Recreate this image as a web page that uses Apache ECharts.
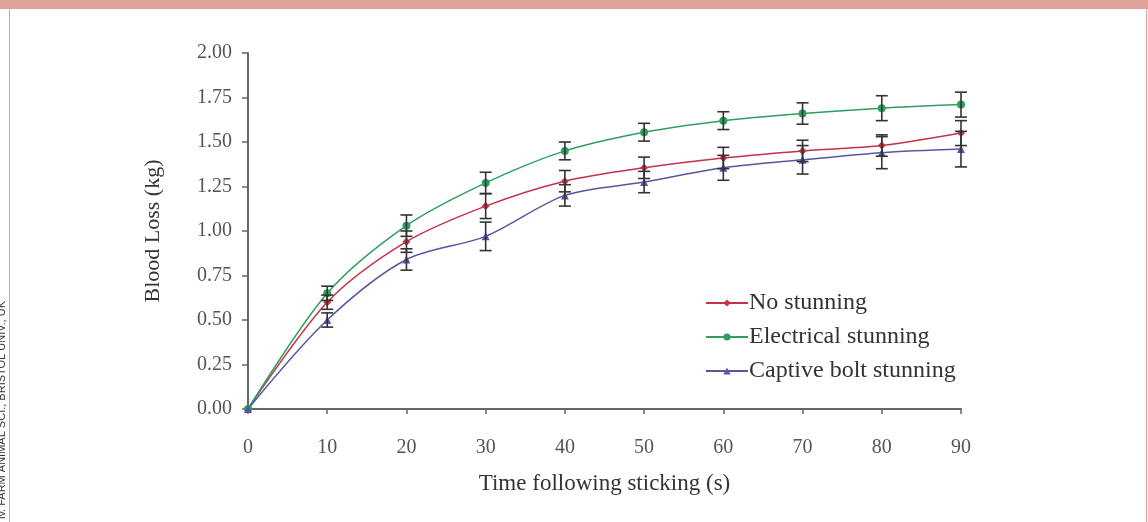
<!DOCTYPE html>
<html>
<head>
<meta charset="utf-8">
<script src="https://cdn.jsdelivr.net/npm/echarts@6/dist/echarts.min.js"></script>
<style>
html,body{margin:0;padding:0;background:#fff;}
#c{width:1148px;height:522px;}
</style>
</head>
<body>
<div id="c"></div>
<script>
const times = [0, 10, 20, 30, 40, 50, 60, 70, 80, 90];
const seriesNames = ['No stunning', 'Electrical stunning', 'Captive bolt stunning'];
const noStunning = [0, 0.60, 0.94, 1.14, 1.28, 1.355, 1.41, 1.45, 1.48, 1.55];
const electrical = [0, 0.65, 1.03, 1.27, 1.45, 1.555, 1.62, 1.66, 1.69, 1.71];
const captiveBolt = [0, 0.50, 0.84, 0.97, 1.20, 1.275, 1.355, 1.40, 1.44, 1.46];
const noStunningErr = [0, 0.04, 0.06, 0.07, 0.06, 0.06, 0.06, 0.06, 0.06, 0.07];
const electricalErr = [0, 0.04, 0.06, 0.06, 0.05, 0.05, 0.05, 0.06, 0.07, 0.07];
const captiveBoltErr = [0, 0.04, 0.06, 0.08, 0.06, 0.06, 0.07, 0.08, 0.09, 0.10];
const yTicks = ['0.00','0.25','0.50','0.75','1.00','1.25','1.50','1.75','2.00'];

const colors = ['#c4324c', '#2f9e5f', '#5557a3'];
const symbols = ['diamond', 'circle', 'triangle'];
const values = [noStunning, electrical, captiveBolt];
const errs = [noStunningErr, electricalErr, captiveBoltErr];

const font = 'Liberation Serif';
const series = [];
values.forEach((vals, i) => {
  series.push({
    name: seriesNames[i],
    type: 'line',
    smooth: 0.3,
    data: times.map((t, k) => [t, vals[k]]),
    symbol: symbols[i],
    symbolSize: 8,
    lineStyle: { color: colors[i], width: 1.5 },
    itemStyle: { color: colors[i] },
    z: 3
  });
  series.push({
    type: 'custom',
    silent: true,
    z: 4,
    data: times.slice(1).map((t, k) => [t, vals[k + 1] - errs[i][k + 1], vals[k + 1] + errs[i][k + 1]]),
    renderItem: function (params, api) {
      const x = api.value(0);
      const lo = api.coord([x, api.value(1)]);
      const hi = api.coord([x, api.value(2)]);
      const w = 6;
      const st = { stroke: '#333', lineWidth: 1.6 };
      return {
        type: 'group',
        children: [
          { type: 'line', shape: { x1: lo[0], y1: lo[1], x2: hi[0], y2: hi[1] }, style: st },
          { type: 'line', shape: { x1: lo[0] - w, y1: lo[1], x2: lo[0] + w, y2: lo[1] }, style: st },
          { type: 'line', shape: { x1: hi[0] - w, y1: hi[1], x2: hi[0] + w, y2: hi[1] }, style: st }
        ]
      };
    }
  });
});

const chart = echarts.init(document.getElementById('c'), null, { renderer: 'canvas' });
chart.setOption({
  animation: false,
  backgroundColor: '#fff',
  grid: { left: 248, right: 187, top: 53, bottom: 113 },
  legend: {
    data: seriesNames,
    orient: 'vertical',
    left: 700,
    top: 286,
    itemWidth: 42,
    itemHeight: 9,
    itemGap: 10,
    textStyle: { fontFamily: font, fontSize: 24, lineHeight: 24, color: '#333', padding: [0, 0, 0, -4] }
  },
  xAxis: {
    type: 'value',
    min: 0, max: 90, interval: 10,
    name: 'Time following sticking (s)',
    nameLocation: 'middle',
    nameGap: 63,
    nameTextStyle: { fontFamily: font, fontSize: 23, color: '#333' },
    axisLine: { lineStyle: { color: '#666', width: 2 } },
    axisTick: { show: true, length: 5, inside: false, lineStyle: { color: '#666', width: 1.5 } },
    axisLabel: { fontFamily: font, fontSize: 20, color: '#555', margin: 29 },
    splitLine: { show: false }
  },
  yAxis: {
    type: 'value',
    min: 0, max: 2, interval: 0.25,
    name: 'Blood Loss (kg)',
    nameLocation: 'middle',
    nameRotate: 90,
    nameGap: 84,
    nameTextStyle: { fontFamily: font, fontSize: 22, color: '#333' },
    axisLine: { show: true, lineStyle: { color: '#666', width: 2 } },
    axisTick: { show: true, length: 6, lineStyle: { color: '#666', width: 1.5 } },
    axisLabel: { fontFamily: font, fontSize: 20, color: '#555', margin: 16,
      formatter: v => yTicks[Math.round(v / 0.25)] },
    splitLine: { show: false }
  },
  graphic: [
    { type: 'rect', left: 0, top: 0, shape: { width: 1148, height: 9 }, style: { fill: '#e0a198' }, silent: true },
    { type: 'rect', left: 9, top: 9, shape: { width: 1, height: 513 }, style: { fill: '#e0a198' }, silent: true },
    { type: 'rect', left: 1146, top: 9, shape: { width: 1, height: 513 }, style: { fill: '#e0a198' }, silent: true },
    { type: 'text', x: 7, y: 301, rotation: Math.PI / 2, silent: true,
      style: { text: 'iv. FARM ANIMAL SCI., BRISTOL UNIV., UK', fontFamily: 'Liberation Sans', fontSize: 11,
        fill: '#333', align: 'right', verticalAlign: 'bottom' } }
  ],
  series: series
});
</script>
</body>
</html>
